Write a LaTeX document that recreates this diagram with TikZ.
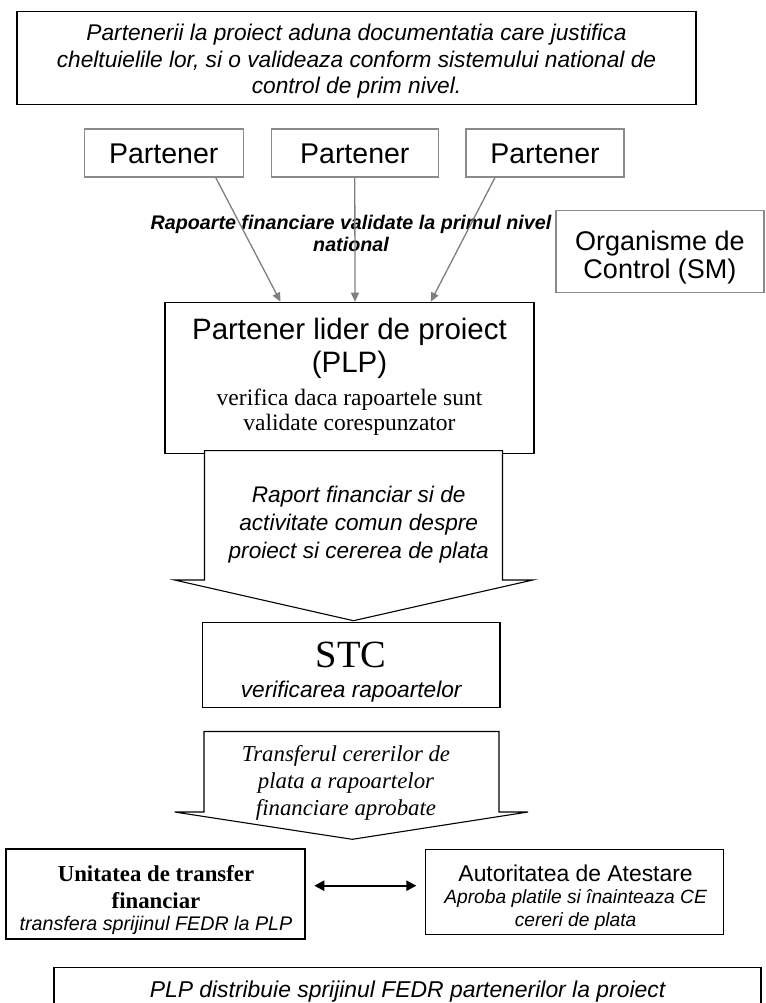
\documentclass[tikz,border=0pt]{standalone}
\usepackage{fontspec}
\setmainfont{Liberation Serif}
\setsansfont{Liberation Sans}
\usetikzlibrary{arrows.meta}
\newcommand\setfs[2]{\fontsize{#1}{#2}\selectfont}
\definecolor{framegray}{HTML}{8A8A8A}
\definecolor{linkgray}{HTML}{7F7F7F}
\begin{document}
\begin{tikzpicture}[x=1pt,y=-1pt,
  box/.style={draw=black, line width=1.1pt, fill=white, inner sep=0pt, align=center},
  softbox/.style={draw=framegray, line width=1.1pt, fill=white, inner sep=0pt, align=center},
  txt/.style={inner sep=0pt, align=center},
  feed/.style={draw=linkgray, line width=1.3pt, -{Triangle[length=9pt,width=8pt]}},
  blockarrow/.style={draw=black, line width=1.1pt, fill=white, line join=miter},
  link/.style={line width=2.2pt, {Triangle[length=10pt,width=10pt]}-{Triangle[length=10pt,width=10pt]}},
]
\useasboundingbox (0,0) rectangle (765,1003);

% introduction
\node[box, minimum width=679, minimum height=93] (intro) at (356.5,57.7) {};
\node[txt, font=\sffamily\itshape\setfs{22.7}{26.5}] (introtext) at (356.5,61.5)
  {Partenerii la proiect aduna documentatia care justifica\\cheltuielile lor, si o valideaza conform sistemului national de\\control de prim nivel.};

% partners
\node[softbox, minimum width=159.3, minimum height=48, text height=22pt, font=\sffamily\setfs{28.5}{32}] (p1) at (163.7,153) {Partener};
\node[softbox, minimum width=167.5, minimum height=48, text height=22pt, font=\sffamily\setfs{28.5}{32}] (p2) at (354.8,153) {Partener};
\node[softbox, minimum width=158, minimum height=48, text height=22pt, font=\sffamily\setfs{28.5}{32}] (p3) at (545,153) {Partener};

% control bodies
\node[softbox, minimum width=208, minimum height=82] (org) at (660,251.7) {};
\node[txt, font=\sffamily\setfs{27}{28.7}] (orgtext) at (660,257.5) {Organisme de\\Control (SM)};

% lead partner
\node[box, minimum width=369, minimum height=151.5] (plp) at (349.5,378) {};
\node[txt, font=\sffamily\setfs{29.5}{33.5}] (plptitle) at (349.5,348.3) {Partener lider de proiect\\(PLP)};
\node[txt, font=\rmfamily\setfs{23.5}{25}] (plpnote) at (349.5,412.5) {verifica daca rapoartele sunt\\validate corespunzator};

% label of the partner reports
\node[txt, font=\sffamily\bfseries\itshape\setfs{19.7}{22.3}] (lbl) at (351,233.5) {Rapoarte financiare validate la primul nivel\\national};

% partner reports to the lead partner
\draw[feed] ([xshift=52pt]p1.south) -- ([xshift=-69pt]plp.north);
\draw[feed] (p2.south) -- ([xshift=5.5pt]plp.north);
\draw[feed] ([xshift=-50pt]p3.south) -- ([xshift=81.2pt]plp.north);

% joint report block arrow
\draw[blockarrow] (204.5,450.6) -- (502.5,450.6) -- (502.5,580) -- (532.8,580) -- (353.5,620.7) -- (174.6,580) -- (204.5,580) -- cycle;
\node[txt, font=\sffamily\itshape\setfs{22.6}{27.7}] (report) at (358.7,524.5) {Raport financiar si de\\activitate comun despre\\proiect si cererea de plata};

% joint technical secretariat
\node[box, minimum width=297.6, minimum height=84.6] (stc) at (351.2,665) {};
\node[txt, font=\rmfamily\setfs{38.5}{40}] (stctitle) at (351.2,654.5) {STC};
\node[txt, font=\sffamily\itshape\setfs{22.7}{26}] (stcnote) at (351.2,691.5) {verificarea rapoartelor};

% transfer block arrow
\draw[blockarrow] (204,731.5) -- (499,731.5) -- (499,812) -- (528,812) -- (352.3,839.3) -- (174.6,812) -- (204,812) -- cycle;
\node[txt, font=\rmfamily\itshape\setfs{22.8}{27}] (transfer) at (346,783) {Transferul cererilor de\\plata a rapoartelor\\financiare aprobate};

% financial transfer unit
\node[box, minimum width=299, minimum height=90] (unit) at (155.5,894) {};
\node[txt, font=\rmfamily\bfseries\setfs{22.8}{27}] (unittitle) at (156,886.7) {Unitatea de transfer\\financiar};
\node[txt, font=\sffamily\itshape\setfs{19.7}{23}] (unitnote) at (156,925.2) {transfera sprijinul FEDR la PLP};

% certifying authority
\node[box, minimum width=297.7, minimum height=85] (auth) at (574.5,892.3) {};
\node[txt, font=\sffamily\setfs{22.9}{26}] (authtitle) at (575.6,873) {Autoritatea de Atestare};
\node[txt, font=\sffamily\itshape\setfs{19.2}{23.5}] (authnote) at (575.6,910) {Aproba platile si înainteaza CE\\cereri de plata};

% exchange between the two
\coordinate (linky) at (0,885.7);
\draw[link, shorten <=8.7pt, shorten >=8.7pt] (unit.east |- linky) -- (auth.west |- linky);

% distribution to partners
\node[box, minimum width=707, minimum height=44.6] (dist) at (407.5,990) {};
\node[txt, font=\sffamily\itshape\setfs{22.9}{26}] (disttext) at (407.5,992)
  {PLP distribuie sprijinul FEDR partenerilor la proiect};
\end{tikzpicture}
\end{document}
